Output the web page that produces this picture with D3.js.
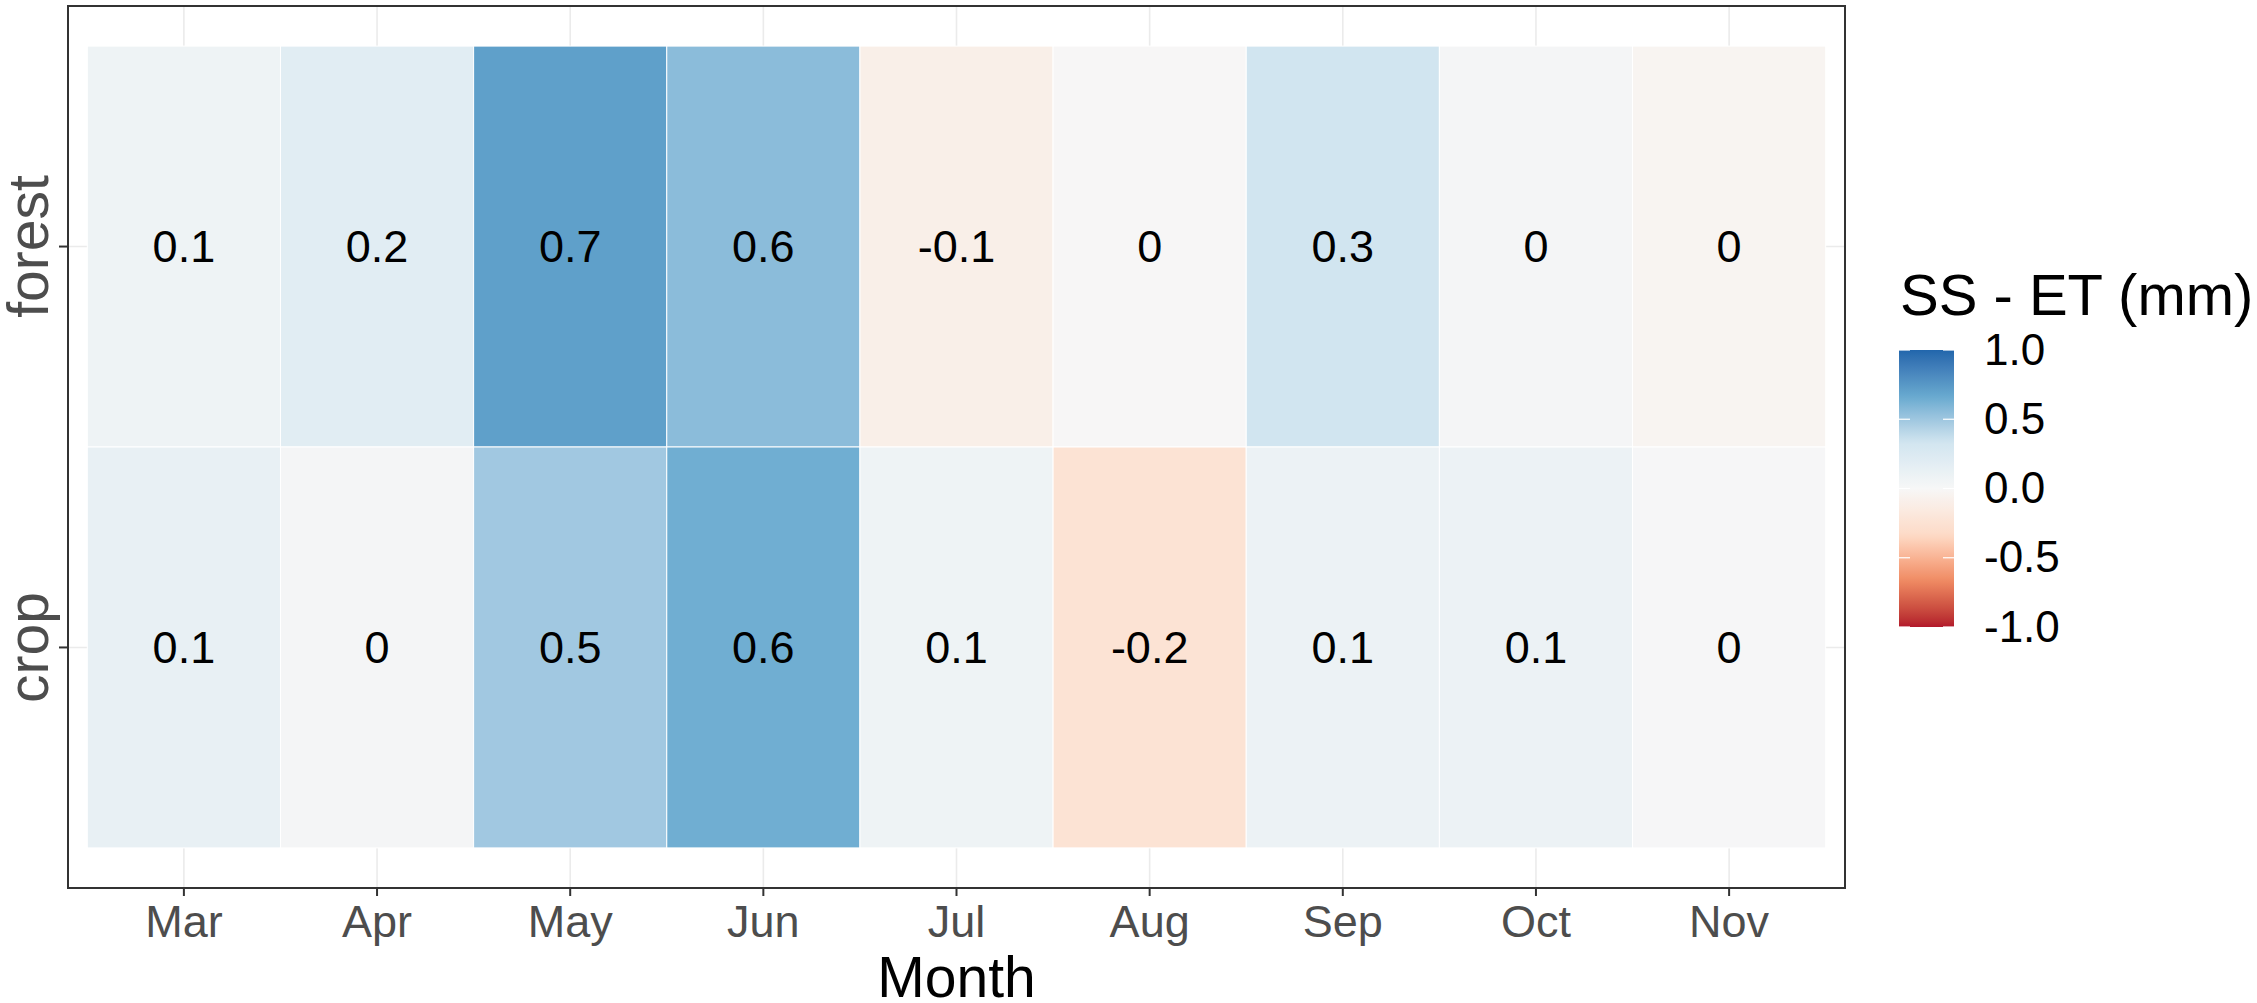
<!DOCTYPE html>
<html>
<head>
<meta charset="utf-8">
<script src="https://cdn.jsdelivr.net/npm/d3@7"></script>
<style>
  body { margin: 0; background: #fff; }
  text { font-family: "Liberation Sans", Arial, sans-serif; }
</style>
</head>
<body>
<div id="chart"></div>
<script>
// Data (labels are the values rounded to 1 decimal)
const months = ["Mar", "Apr", "May", "Jun", "Jul", "Aug", "Sep", "Oct", "Nov"];
const landUse = ["crop", "forest"];
const forestValues = [0.08, 0.19, 0.71, 0.56, -0.10, -0.01, 0.33, 0.03, -0.04];
const cropValues = [0.13, 0.03, 0.49, 0.64, 0.08, -0.24, 0.10, 0.10, 0.01];
const legendTicks = [-1, -0.5, 0, 0.5, 1];
const rdbu7 = ["#B2182B", "#EF8A62", "#FDDBC7", "#F7F7F7", "#D1E5F0", "#67A9CF", "#2166AC"];

const cells = [];
months.forEach((m, i) => {
  cells.push({month: m, use: "forest", value: forestValues[i]});
  cells.push({month: m, use: "crop", value: cropValues[i]});
});

// Chart dimensions
const width = 2257;
const height = 1003;
const panelLeft = 68;
const panelRight = 1845;
const panelTop = 6;
const panelBottom = 888;

const x = d3.scaleBand()
    .domain(months)
    .range([panelLeft, panelRight])
    .paddingInner(0)
    .paddingOuter(0.1);

const y = d3.scaleBand()
    .domain(landUse)
    .range([panelBottom, panelTop])
    .paddingInner(0)
    .paddingOuter(0.1);

const color = d3.scaleLinear()
    .domain(d3.range(7).map(i => -1 + i / 3))
    .range(rdbu7)
    .interpolate(d3.interpolateLab)
    .clamp(true);

const svg = d3.select("#chart").append("svg")
    .attr("width", width)
    .attr("height", height);

// grid lines
const grid = svg.append("g");
grid.selectAll("line.vx")
  .data(months)
  .join("line")
    .attr("x1", d => x(d) + x.bandwidth() / 2)
    .attr("x2", d => x(d) + x.bandwidth() / 2)
    .attr("y1", panelTop)
    .attr("y2", panelBottom)
    .attr("stroke", "#EBEBEB")
    .attr("stroke-width", 1.6);
grid.selectAll("line.hy")
  .data(landUse)
  .join("line")
    .attr("x1", panelLeft)
    .attr("x2", panelRight)
    .attr("y1", d => y(d) + y.bandwidth() / 2)
    .attr("y2", d => y(d) + y.bandwidth() / 2)
    .attr("stroke", "#EBEBEB")
    .attr("stroke-width", 1.6);

// tiles
svg.append("g")
  .selectAll("rect")
  .data(cells)
  .join("rect")
    .attr("x", d => x(d.month))
    .attr("y", d => y(d.use))
    .attr("width", x.bandwidth())
    .attr("height", y.bandwidth())
    .attr("fill", d => color(d.value))
    .attr("stroke", "#fff")
    .attr("stroke-width", 1);

// tile labels, R style rounding ("0" not "0.0")
const fmtCell = v => String(+(+v.toFixed(1)).toString() || 0);
svg.append("g")
  .selectAll("text")
  .data(cells)
  .join("text")
    .attr("x", d => x(d.month) + x.bandwidth() / 2)
    .attr("y", d => y(d.use) + y.bandwidth() / 2)
    .attr("dy", "0.35em")
    .attr("text-anchor", "middle")
    .attr("font-size", 45)
    .attr("fill", "#000")
    .text(d => fmtCell(d.value));

// panel border
svg.append("rect")
    .attr("x", panelLeft)
    .attr("y", panelTop)
    .attr("width", panelRight - panelLeft)
    .attr("height", panelBottom - panelTop)
    .attr("fill", "none")
    .attr("stroke", "#333")
    .attr("stroke-width", 2);

// x axis
const xAxis = svg.append("g")
    .attr("transform", `translate(0,${panelBottom})`)
    .call(d3.axisBottom(x).tickSize(8).tickPadding(9));
xAxis.select(".domain").remove();
xAxis.selectAll("line").attr("stroke", "#333").attr("stroke-width", 2);
xAxis.selectAll("text")
    .attr("font-size", 45)
    .attr("font-family", "Liberation Sans, Arial, sans-serif")
    .attr("fill", "#4D4D4D");

// y axis
const yAxis = svg.append("g")
    .attr("transform", `translate(${panelLeft},0)`)
    .call(d3.axisLeft(y).tickSize(9));
yAxis.select(".domain").remove();
yAxis.selectAll("line").attr("stroke", "#333").attr("stroke-width", 2);
yAxis.selectAll("text")
    .attr("x", null)
    .attr("dy", null)
    .attr("transform", "translate(-20,0) rotate(-90)")
    .attr("text-anchor", "middle")
    .attr("font-size", 57)
    .attr("font-family", "Liberation Sans, Arial, sans-serif")
    .attr("fill", "#4D4D4D");

// axis title
svg.append("text")
    .attr("x", (panelLeft + panelRight) / 2)
    .attr("y", 997)
    .attr("text-anchor", "middle")
    .attr("font-size", 57)
    .attr("fill", "#000")
    .text("Month");

// legend
const barX = 1899, barW = 55, barTop = 350, barBottom = 627;
const legendScale = d3.scaleLinear().domain([-1, 1]).range([barBottom, barTop]);

const grad = svg.append("defs").append("linearGradient")
    .attr("id", "legendGrad")
    .attr("x1", 0).attr("y1", 1).attr("x2", 0).attr("y2", 0);
grad.selectAll("stop")
  .data(d3.range(0, 1.0001, 0.02))
  .join("stop")
    .attr("offset", d => d)
    .attr("stop-color", d => color(-1 + 2 * d));

svg.append("text")
    .attr("x", 1900)
    .attr("y", 315)
    .attr("font-size", 58)
    .attr("fill", "#000")
    .text("SS - ET (mm)");

svg.append("rect")
    .attr("x", barX)
    .attr("y", barTop)
    .attr("width", barW)
    .attr("height", barBottom - barTop)
    .attr("fill", "url(#legendGrad)");

const tickMarks = svg.append("g");
tickMarks.selectAll("line.l")
  .data(legendTicks)
  .join("line")
    .attr("x1", barX).attr("x2", barX + 11)
    .attr("y1", d => legendScale(d)).attr("y2", d => legendScale(d))
    .attr("stroke", "#fff").attr("stroke-width", 1.2);
tickMarks.selectAll("line.r")
  .data(legendTicks)
  .join("line")
    .attr("x1", barX + barW - 11).attr("x2", barX + barW)
    .attr("y1", d => legendScale(d)).attr("y2", d => legendScale(d))
    .attr("stroke", "#fff").attr("stroke-width", 1.2);

const legendAxis = svg.append("g")
    .attr("transform", `translate(${barX + barW},0)`)
    .call(d3.axisRight(legendScale)
      .tickValues(legendTicks)
      .tickFormat(d => d.toFixed(1))
      .tickSize(0)
      .tickPadding(30));
legendAxis.select(".domain").remove();
legendAxis.selectAll("text")
    .attr("font-size", 44)
    .attr("font-family", "Liberation Sans, Arial, sans-serif")
    .attr("fill", "#000");
</script>
</body>
</html>
